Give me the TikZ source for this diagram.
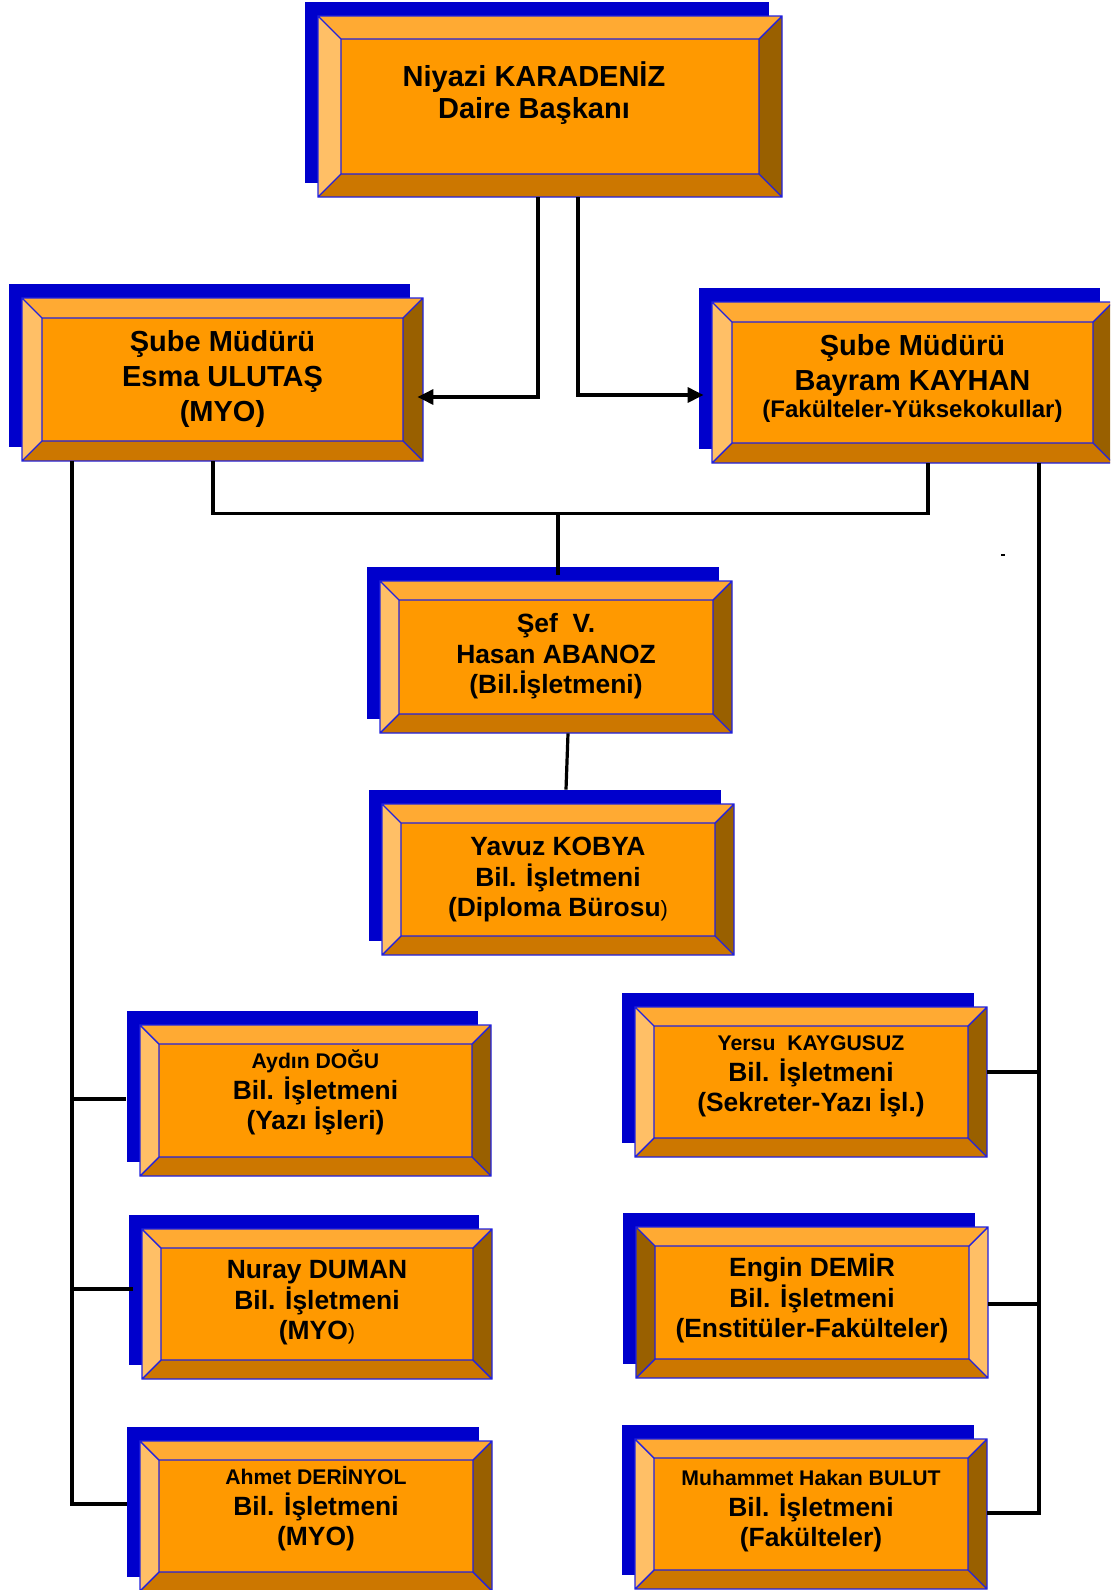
\documentclass[tikz,border=0pt]{standalone}
\usepackage{fontspec}
\setmainfont{Liberation Sans}
\usetikzlibrary{arrows.meta,calc,fit}

\definecolor{shadowblue}{RGB}{0,0,204}
\definecolor{edgeblue}{RGB}{34,34,221}
\definecolor{boxface}{RGB}{255,153,0}
\definecolor{bevtop}{RGB}{255,170,51}
\definecolor{bevlight}{RGB}{255,191,102}
\definecolor{bevdark}{RGB}{153,96,0}
\definecolor{bevbottom}{RGB}{204,119,0}

\tikzset{
  bevel left/.style={fill=bevlight},
  bevel right/.style={fill=bevdark},
  bevel edge/.style={draw=edgeblue, line width=0.7pt},
  link/.style={draw=black, line width=1.6pt},
  linkarrow/.style={link, -{Triangle[length=8pt,width=7.5pt]}},
  headtext/.style={font=\bfseries\fontsize{14.5}{16}\selectfont, align=center, anchor=base, inner sep=0pt},
  chieftext/.style={headtext, font=\bfseries\fontsize{14.5}{17.5}\selectfont},
  stafftext/.style={headtext, font=\bfseries\fontsize{13.2}{15.3}\selectfont},
}

\newcommand{\smallrow}[1]{{\fontsize{10.6}{12}\selectfont #1}}
\newcommand{\thinparen}{{\mdseries\fontsize{11}{12}\selectfont )}}

% name, x, y (top left), width, height, bevel
\newcommand{\bevelbox}[6]{%
  \fill[shadowblue] (#2-13,#3-14) rectangle ++(#4,#5);
  \coordinate (#1-o1) at (#2,#3);
  \coordinate (#1-o2) at (#2+#4,#3);
  \coordinate (#1-o3) at (#2+#4,#3+#5);
  \coordinate (#1-o4) at (#2,#3+#5);
  \coordinate (#1-i1) at (#2+#6,#3+#6);
  \coordinate (#1-i2) at (#2+#4-#6,#3+#6);
  \coordinate (#1-i3) at (#2+#4-#6,#3+#5-#6);
  \coordinate (#1-i4) at (#2+#6,#3+#5-#6);
  \fill[boxface] (#1-i1) rectangle (#1-i3);
  \fill[bevtop] (#1-o1) -- (#1-o2) -- (#1-i2) -- (#1-i1) -- cycle;
  \path[bevel right] (#1-o2) -- (#1-o3) -- (#1-i3) -- (#1-i2) -- cycle;
  \fill[bevbottom] (#1-o3) -- (#1-o4) -- (#1-i4) -- (#1-i3) -- cycle;
  \path[bevel left] (#1-o4) -- (#1-o1) -- (#1-i1) -- (#1-i4) -- cycle;
  \draw[bevel edge] (#1-o1) rectangle (#1-o3) (#1-i1) rectangle (#1-i3)
    (#1-o1) -- (#1-i1) (#1-o2) -- (#1-i2) (#1-o3) -- (#1-i3) (#1-o4) -- (#1-i4);
  \node[fit=(#1-o1)(#1-o3), inner sep=0pt] (#1) {};
}

\begin{document}
\begin{tikzpicture}[x=0.5pt, y=-0.5pt]
  \useasboundingbox (0,0) rectangle (1110,1590);
  \clip (0,0) rectangle (1110,1590);

  % boxes
  \bevelbox{niyazi}{318}{16}{464}{181}{23}
  \bevelbox{esma}{22}{298}{401}{163}{20}
  \bevelbox{bayram}{712}{302}{401}{161}{20}
  \bevelbox{sef}{380}{581}{352}{152}{19}
  \bevelbox{yavuz}{382}{804}{352}{151}{19}
  \bevelbox{aydin}{140}{1025}{351}{151}{19}
  \bevelbox{nuray}{142}{1229}{350}{150}{19}
  \bevelbox{ahmet}{140}{1441}{352}{150}{19}
  \bevelbox{yersu}{635}{1007}{352}{150}{19}
  \begin{scope}[bevel left/.style={fill=bevdark}, bevel right/.style={fill=bevlight}]
    \bevelbox{engin}{636}{1227}{352}{151}{19}
  \end{scope}
  \bevelbox{muhammet}{635}{1439}{352}{150}{19}

  % texts (anchored at the last line)
  \node[headtext] (niyazi-t) at ($(niyazi.north)+(-16,103)$) {Niyazi KARADENİZ\\Daire Başkanı};
  \node[chieftext] (esma-t) at ($(esma.north)+(0,124)$) {Şube Müdürü\\Esma ULUTAŞ\\(MYO)};
  \node[chieftext] (bayram-t) at ($(bayram.north)+(0,116)$) {Şube Müdürü\\Bayram KAYHAN\\[-4pt]{\fontsize{12}{14}\selectfont (Fakülteler-Yüksekokullar)}};
  \node[stafftext] (sef-t) at ($(sef.north)+(0,113)$) {Şef~~V.\\Hasan ABANOZ\\(Bil.İşletmeni)};
  \node[stafftext] (yavuz-t) at ($(yavuz.north)+(0,113)$) {Yavuz KOBYA\\Bil. İşletmeni\\(Diploma Bürosu\thinparen};
  \node[stafftext] (aydin-t) at ($(aydin.north)+(0,105)$) {\smallrow{Aydın DOĞU}\\Bil. İşletmeni\\(Yazı İşleri)};
  \node[stafftext] (nuray-t) at ($(nuray.north)+(0,111)$) {Nuray DUMAN\\Bil. İşletmeni\\(MYO\thinparen};
  \node[stafftext] (ahmet-t) at ($(ahmet.north)+(0,105)$) {\smallrow{Ahmet DERİNYOL}\\Bil. İşletmeni\\(MYO)};
  \node[stafftext] (yersu-t) at ($(yersu.north)+(0,105)$) {\smallrow{Yersu~~KAYGUSUZ}\\Bil. İşletmeni\\(Sekreter-Yazı İşl.)};
  \node[stafftext] (engin-t) at ($(engin.north)+(0,111)$) {Engin DEMİR\\Bil. İşletmeni\\(Enstitüler-Fakülteler)};
  \node[stafftext] (muhammet-t) at ($(muhammet.north)+(0,108)$) {\smallrow{Muhammet Hakan BULUT}\\Bil. İşletmeni\\(Fakülteler)};

  % connectors
  \draw[linkarrow] ($(niyazi.south)+(-12,0)$) |- ($(esma.east)+(-6,17.5)$);
  \draw[linkarrow] ($(niyazi.south)+(28,0)$) |- ($(bayram.west)+(-8,12.5)$);
  \draw[link] ($(esma.south)+(-9.5,0)$) |- ($(bayram.south)+(15.5,50)$) -- ($(bayram.south)+(15.5,0)$);
  \draw[link] ($(sef.north)+(2,-68)$) -- ($(sef.north)+(2,-6)$);
  \draw[link] ($(sef.south)+(12,0)$) -- ($(yavuz.north)+(8,-14)$);
  \coordinate (lspine) at ($(esma.south)+(-150.5,0)$);
  \coordinate (rspine) at ($(bayram.south)+(126.5,0)$);
  \draw[link] (lspine) |- ($(ahmet.west)+(-13,-12)$);
  \draw[link] ($(aydin.west)+(-14,-1.5)$) -| (lspine);
  \draw[link] ($(nuray.west)+(-9,-15)$) -| (lspine);
  \draw[link] (rspine) |- ($(muhammet.east)+(0,-1)$);
  \draw[link] ($(yersu.east)+(0,-10)$) -| (rspine);
  \draw[link] ($(engin.east)+(0,1.5)$) -| (rspine);
  \fill (1001,554) rectangle (1005,556);
\end{tikzpicture}
\end{document}
